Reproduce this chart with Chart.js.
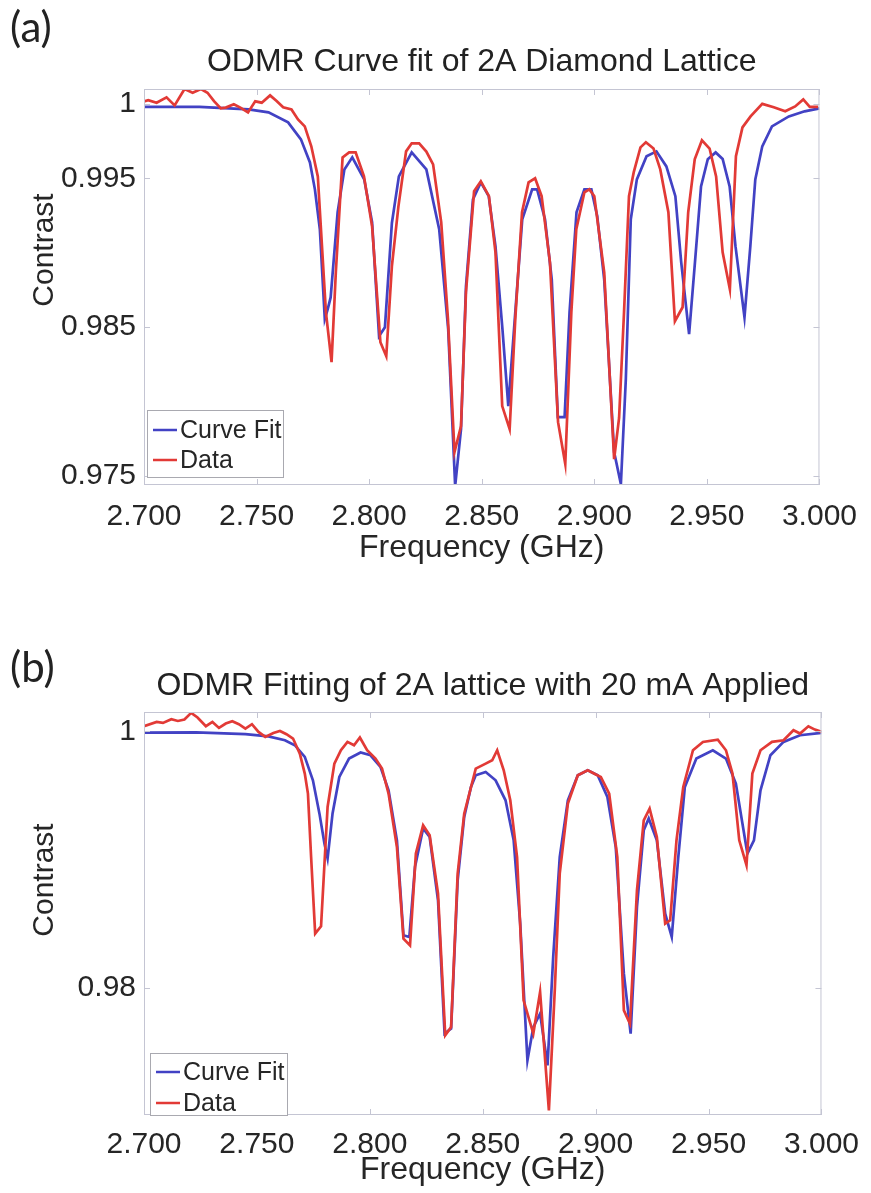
<!DOCTYPE html>
<html>
<head>
<meta charset="utf-8">
<script src="https://cdn.jsdelivr.net/npm/chart.js@4.4.1/dist/chart.umd.min.js"></script>
<style>
  html, body { margin: 0; padding: 0; background: #fff; }
  #page { position: relative; width: 871px; height: 1193px; overflow: hidden; }
  .panel { position: absolute; left: 0; width: 871px; }
  .tag { position: absolute; left: 10px; font-family: Lato, 'Open Sans', sans-serif; font-size: 42px; color: #222; line-height: 50px; }
</style>
</head>
<body>
<div id="page">
  <div class="panel" style="top:0;height:600px"><canvas id="chartA"></canvas></div>
  <div class="panel" style="top:600px;height:593px"><canvas id="chartB"></canvas></div>
  <div class="tag" style="top:1px">(a)</div>
  <div class="tag" style="top:641px">(b)</div>
</div>
<script>
const freqTicks = [2.70, 2.75, 2.80, 2.85, 2.90, 2.95, 3.00];
const yTicksA = [0.975, 0.985, 0.995, 1];
const yTicksB = [0.98, 1];

// panel (a): curve fit
const fitFreqA = [2.700, 2.7246, 2.7465, 2.7553, 2.7640, 2.7697, 2.7737, 2.7759, 2.7781, 2.7803,
  2.7816, 2.7829, 2.7860, 2.7890, 2.7925, 2.7978, 2.8013, 2.8044, 2.8070, 2.8101,
  2.8132, 2.8189, 2.8254, 2.8311, 2.8351, 2.8382, 2.8408, 2.8430, 2.8461, 2.8496,
  2.8531, 2.8561, 2.8592, 2.8618, 2.8649, 2.8680, 2.8724, 2.8746, 2.8781, 2.8811,
  2.8838, 2.8868, 2.8890, 2.8921, 2.8956, 2.8987, 2.9013, 2.9044, 2.9088, 2.9118,
  2.9140, 2.9162, 2.9189, 2.9232, 2.9276, 2.9320, 2.9360, 2.9386, 2.9421, 2.9447,
  2.9474, 2.9504, 2.9539, 2.9570, 2.9601, 2.9627, 2.9667, 2.9693, 2.9715, 2.9746,
  2.9789, 2.9864, 2.9934, 3.000];
const fitA = [0.9998, 0.9998, 0.99963, 0.99943, 0.99876, 0.99762, 0.99607, 0.99426, 0.99158, 0.98554,
  0.98621, 0.9870, 0.99272, 0.9956, 0.99641, 0.99493, 0.99205, 0.9844, 0.9850, 0.9920,
  0.99513, 0.99674, 0.9956, 0.99158, 0.98487, 0.97433, 0.97815, 0.98775, 0.99359, 0.99473,
  0.9938, 0.99044, 0.98487, 0.9797, 0.9860, 0.99225, 0.99426, 0.99426, 0.99225, 0.98822,
  0.97896, 0.97896, 0.9860, 0.99272, 0.99426, 0.99426, 0.99245, 0.9882, 0.97661, 0.97446,
  0.98151, 0.99225, 0.99493, 0.99648, 0.99681, 0.9958, 0.9938, 0.98936, 0.98453, 0.98936,
  0.99446, 0.99628, 0.99674, 0.9963, 0.99446, 0.99044, 0.98567, 0.99044, 0.99493, 0.99715,
  0.99849, 0.99916, 0.9995, 0.9997];

// panel (a): measured data
const dataFreqA = [2.700, 2.7019, 2.7056, 2.7100, 2.7136, 2.7180, 2.7216, 2.7253, 2.7282, 2.7311,
  2.7341, 2.7363, 2.7399, 2.7428, 2.7462, 2.7494, 2.7523, 2.7560, 2.7589, 2.7618,
  2.7655, 2.7684, 2.7714, 2.7743, 2.7772, 2.7786, 2.7808, 2.7833, 2.7852, 2.7882,
  2.7911, 2.7940, 2.7977, 2.8013, 2.8050, 2.8076, 2.8101, 2.8130, 2.8164, 2.8189,
  2.8222, 2.8254, 2.8284, 2.8320, 2.8350, 2.8379, 2.8408, 2.8430, 2.8466, 2.8496,
  2.8532, 2.8561, 2.8591, 2.8624, 2.8649, 2.8679, 2.8708, 2.8737, 2.8766, 2.8803,
  2.8839, 2.8871, 2.8898, 2.8920, 2.8956, 2.8978, 2.9000, 2.9044, 2.9088, 2.9110,
  2.9132, 2.9154, 2.9175, 2.9205, 2.9229, 2.9263, 2.9293, 2.9329, 2.9358, 2.9392,
  2.9417, 2.9446, 2.9478, 2.9512, 2.9541, 2.9570, 2.9602, 2.9629, 2.9658, 2.9694,
  2.9746, 2.9797, 2.9848, 2.9892, 2.9928, 2.9957, 2.9994];
const dataA = [1.00017, 1.00025, 1.00008, 1.00044, 0.9999, 1.0010, 1.00075, 1.0010, 1.00075, 1.00019,
  0.9997, 0.99975, 0.99997, 0.99975, 0.99943, 1.00017, 1.00008, 1.00057, 1.00019, 0.99977,
  0.99963, 0.99896, 0.99849, 0.99715, 0.99513, 0.99158, 0.9860, 0.98265, 0.98869, 0.99641,
  0.99674, 0.99674, 0.99513, 0.99178, 0.98399, 0.98305, 0.9891, 0.99312, 0.99681, 0.99735,
  0.99735, 0.9968, 0.99594, 0.99205, 0.98554, 0.97661, 0.97836, 0.98735, 0.99413, 0.9948,
  0.9938, 0.99003, 0.9797, 0.97815, 0.98554, 0.99272, 0.99473, 0.9950, 0.9938, 0.98936,
  0.97862, 0.97581, 0.9860, 0.99158, 0.99406, 0.99426, 0.9938, 0.98869, 0.97614, 0.9789,
  0.9860, 0.9938, 0.9954, 0.99708, 0.99742, 0.9970, 0.9956, 0.99272, 0.9854, 0.98634,
  0.99272, 0.99628, 0.99755, 0.9970, 0.99513, 0.99003, 0.98755, 0.99648, 0.99842, 0.99916,
  1.0000, 0.99977, 0.9995, 0.99983, 1.0003, 0.9998, 0.9998];

// panel (b): curve fit
const fitFreqB = [2.700, 2.7230, 2.7449, 2.7551, 2.7624, 2.7668, 2.7712, 2.7748, 2.7777, 2.7799,
  2.7813, 2.7835, 2.7865, 2.7908, 2.7959, 2.8003, 2.8047, 2.8083, 2.8120, 2.8149,
  2.8175, 2.8200, 2.8236, 2.8265, 2.8302, 2.8331, 2.8360, 2.8389, 2.8418, 2.8448,
  2.8469, 2.8513, 2.8557, 2.8601, 2.8637, 2.8666, 2.8698, 2.8724, 2.8754, 2.8787,
  2.8812, 2.8841, 2.8877, 2.8921, 2.8965, 2.9009, 2.9052, 2.9089, 2.9125, 2.9155,
  2.9183, 2.9213, 2.9235, 2.9271, 2.9308, 2.9337, 2.9366, 2.9395, 2.9446, 2.9519,
  2.9577, 2.9621, 2.9650, 2.9672, 2.9701, 2.9730, 2.9774, 2.9832, 2.9905, 3.000];
const fitB = [0.9999, 0.99992, 0.99977, 0.9996, 0.9993, 0.99891, 0.9980, 0.99618, 0.99358, 0.99125,
  0.99008, 0.9936, 0.99644, 0.99787, 0.99834, 0.99813, 0.99722, 0.9954, 0.9915, 0.9841,
  0.98397, 0.98942, 0.99242, 0.99176, 0.98683, 0.97644, 0.97683, 0.98839, 0.99332, 0.99566,
  0.99657, 0.99683, 0.99618, 0.99462, 0.9915, 0.98501, 0.97436, 0.97695, 0.9780, 0.97397,
  0.98241, 0.9902, 0.99462, 0.99657, 0.99696, 0.99657, 0.99488, 0.99098, 0.98111, 0.97644,
  0.98631, 0.99228, 0.9932, 0.9915, 0.98579, 0.98397, 0.9902, 0.99566, 0.99787, 0.99852,
  0.99787, 0.99592, 0.99281, 0.99047, 0.9915, 0.9954, 0.99813, 0.99917, 0.99969, 0.99987];

// panel (b): measured data
const dataFreqB = [2.700, 2.7056, 2.7084, 2.7121, 2.7150, 2.7179, 2.7209, 2.7237, 2.7274, 2.7303,
  2.7332, 2.7362, 2.7391, 2.7420, 2.7449, 2.7478, 2.7507, 2.7537, 2.7573, 2.7602,
  2.7631, 2.7660, 2.7690, 2.7712, 2.7726, 2.7740, 2.7758, 2.7784, 2.7813, 2.7843,
  2.7872, 2.7901, 2.7930, 2.7956, 2.7988, 2.8025, 2.8054, 2.8083, 2.8120, 2.8149,
  2.8178, 2.8204, 2.8236, 2.8265, 2.8302, 2.8334, 2.8360, 2.8389, 2.8418, 2.8469,
  2.8513, 2.8542, 2.8564, 2.8593, 2.8622, 2.8652, 2.8681, 2.8724, 2.8754, 2.8793,
  2.8819, 2.8841, 2.8877, 2.8921, 2.8965, 2.9023, 2.9060, 2.9096, 2.9125, 2.9152,
  2.9183, 2.9213, 2.9239, 2.9271, 2.9308, 2.9330, 2.9358, 2.9388, 2.9431, 2.9475,
  2.9541, 2.9577, 2.9606, 2.9636, 2.9668, 2.9694, 2.9730, 2.9781, 2.9832, 2.9876,
  2.9905, 2.9942, 2.9971, 3.000];
const dataB = [1.00039, 1.00073, 1.00065, 1.00094, 1.0008, 1.00091, 1.00143, 1.00107, 1.00039, 1.00073,
  1.00026, 1.0006, 1.00078, 1.00055, 1.00021, 1.00055, 0.99995, 0.99956, 0.99987, 1.00002,
  0.99977, 0.99943, 0.99826, 0.9967, 0.99514, 0.9902, 0.98423, 0.9848, 0.9941, 0.99748,
  0.99852, 0.99917, 0.99891, 0.99951, 0.99852, 0.99787, 0.99709, 0.99514, 0.99098, 0.98384,
  0.98332, 0.99047, 0.99267, 0.99189, 0.98735, 0.97631, 0.97695, 0.98891, 0.99358, 0.99709,
  0.99748, 0.99774, 0.99852, 0.99696, 0.99462, 0.9902, 0.97903, 0.97644, 0.97968, 0.97046,
  0.97981, 0.98891, 0.99436, 0.99657, 0.99696, 0.99644, 0.99514, 0.9902, 0.97825, 0.97722,
  0.98761, 0.99306, 0.99397, 0.99176, 0.98501, 0.98527, 0.9915, 0.99566, 0.99852, 0.99917,
  0.99935, 0.99852, 0.9967, 0.9915, 0.98956, 0.9967, 0.99852, 0.99917, 0.9993, 1.00008,
  0.99982, 1.00039, 1.00013, 0.99995];

const FIT_COLOR = '#4242c4';
const DATA_COLOR = '#e23a36';
const TEXT = '#262626';
const FONT = "'Liberation Sans', Arial, sans-serif";

Chart.defaults.font.family = FONT;
Chart.defaults.color = TEXT;

function pts(xs, ys) {
  return xs.map((x, i) => ({ x: x, y: ys[i] }));
}

// axis box, inward ticks, y title and an in-plot legend (MATLAB look)
const framePlugin = {
  id: 'frame',
  afterDatasetsDraw(chart, args, opts) {
    const { ctx, chartArea: a, scales: { x, y } } = chart;
    ctx.save();
    ctx.strokeStyle = '#c4c5d3';
    ctx.lineWidth = 1;
    ctx.strokeRect(a.left + 0.5, a.top + 0.5, a.width - 1, a.height - 1);
    ctx.beginPath();
    x.ticks.forEach((t) => {
      const px = Math.round(x.getPixelForValue(t.value)) + 0.5;
      ctx.moveTo(px, a.bottom); ctx.lineTo(px, a.bottom - 6);
      ctx.moveTo(px, a.top); ctx.lineTo(px, a.top + 6);
    });
    y.ticks.forEach((t) => {
      const py = Math.round(y.getPixelForValue(t.value)) + 0.5;
      ctx.moveTo(a.left, py); ctx.lineTo(a.left + 6, py);
      ctx.moveTo(a.right, py); ctx.lineTo(a.right - 6, py);
    });
    ctx.stroke();

    // y axis title
    ctx.save();
    ctx.translate(opts.yTitleX, opts.yTitleY);
    ctx.rotate(-Math.PI / 2);
    ctx.font = '30px ' + FONT;
    ctx.fillStyle = TEXT;
    ctx.textAlign = 'center';
    ctx.textBaseline = 'middle';
    ctx.fillText('Contrast', 0, 0);
    ctx.restore();

    // legend box
    const L = opts.legend;
    const bx = a.left + L.dx, by = a.bottom - L.dy;
    ctx.fillStyle = '#fff';
    ctx.fillRect(bx, by, L.w, L.h);
    ctx.strokeStyle = '#a9a9b0';
    ctx.strokeRect(bx + 0.5, by + 0.5, L.w, L.h);
    ctx.font = '25px ' + FONT;
    ctx.textBaseline = 'middle';
    ctx.textAlign = 'left';
    chart.data.datasets.forEach((ds, i) => {
      const ry = by + L.rows[i];
      ctx.strokeStyle = ds.borderColor;
      ctx.lineWidth = 2.5;
      ctx.beginPath();
      ctx.moveTo(bx + 6, ry); ctx.lineTo(bx + 30, ry);
      ctx.stroke();
      ctx.fillStyle = TEXT;
      ctx.fillText(ds.label, bx + 33, ry + 1);
    });
    ctx.restore();
  }
};

function makeChart(canvasId, cfg) {
  return new Chart(document.getElementById(canvasId), {
    type: 'line',
    data: {
      datasets: [
        { label: 'Curve Fit', data: pts(cfg.fitFreq, cfg.fit), borderColor: FIT_COLOR, order: 1 },
        { label: 'Data', data: pts(cfg.dataFreq, cfg.data), borderColor: DATA_COLOR, order: 0 }
      ]
    },
    options: {
      responsive: true,
      maintainAspectRatio: false,
      animation: false,
      elements: {
        line: { borderWidth: 2.7, tension: 0, fill: false },
        point: { radius: 0 }
      },
      layout: { padding: { left: 0, top: 0, bottom: 0, right: cfg.padRight } },
      plugins: {
        legend: { display: false },
        tooltip: { enabled: false },
        title: {
          display: true,
          fullSize: false,
          text: cfg.title,
          color: '#222',
          font: { size: 32, weight: 'normal', lineHeight: 1.2 },
          padding: { top: cfg.titleTop, bottom: cfg.titleBottom }
        },
        frame: { yTitleX: 45, yTitleY: cfg.yTitleY, legend: cfg.legend }
      },
      scales: {
        x: {
          type: 'linear',
          min: 2.7,
          max: 3.0,
          afterBuildTicks: (s) => { s.ticks = freqTicks.map((v) => ({ value: v })); },
          afterFit: (s) => { s.height = cfg.xHeight; },
          ticks: { font: { size: 30 }, padding: cfg.xTickPad, maxRotation: 0, callback: (v) => Number(v).toFixed(3) },
          grid: { display: false, drawTicks: false },
          border: { display: false },
          title: { display: true, text: 'Frequency (GHz)', font: { size: 32 }, padding: { top: 0, bottom: cfg.xTitleBottom } }
        },
        y: {
          min: cfg.yMin,
          max: cfg.yMax,
          afterBuildTicks: (s) => { s.ticks = cfg.yTicks.map((v) => ({ value: v })); },
          afterFit: (s) => { s.width = 144; },
          ticks: { font: { size: 30 }, padding: 8, callback: (v) => String(v) },
          grid: { display: false, drawTicks: false },
          border: { display: false }
        }
      }
    },
    plugins: [framePlugin]
  });
}

makeChart('chartA', {
  title: 'ODMR Curve fit of 2A Diamond Lattice',
  fitFreq: fitFreqA, fit: fitA, dataFreq: dataFreqA, data: dataA,
  yTicks: yTicksA, yMin: 0.9744, yMax: 1.0010,
  padRight: 43, titleTop: 43, titleBottom: 7.6,
  xHeight: 115, xTickPad: 14, xTitleBottom: 33,
  yTitleY: 250,
  legend: { dx: 3, dy: 75, w: 136, h: 67, rows: [20, 50] }
});

makeChart('chartB', {
  title: 'ODMR Fitting of 2A lattice with 20 mA Applied',
  fitFreq: fitFreqB, fit: fitB, dataFreq: dataFreqB, data: dataB,
  yTicks: yTicksB, yMin: 0.9701, yMax: 1.0015,
  padRight: 41, titleTop: 67, titleBottom: 6.6,
  xHeight: 78, xTickPad: 12, xTitleBottom: 4,
  yTitleY: 280,
  legend: { dx: 6, dy: 62, w: 137, h: 62, rows: [19, 50] }
});
</script>
</body>
</html>
